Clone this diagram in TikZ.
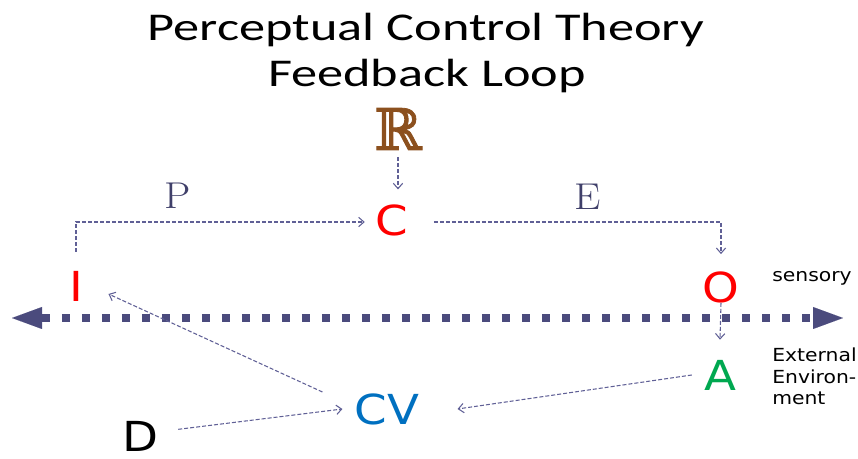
\documentclass[tikz,border=0pt]{standalone}
\usepackage{fontspec}
\usetikzlibrary{arrows.meta}
\newfontfamily\titlefont[FakeStretch=1.33]{Carlito}
\newfontfamily\letterfont[FakeStretch=1.13]{DejaVu Sans}
\newfontfamily\rfont[FakeBold=1.5]{DejaVu Serif}
\newfontfamily\pefont{Latin Modern Roman}
\definecolor{linec}{RGB}{96,96,150}
\definecolor{bigc}{RGB}{75,75,125}
\definecolor{agreen}{RGB}{0,168,80}
\definecolor{cvblue}{RGB}{0,112,192}
\definecolor{rbrown}{RGB}{140,80,30}
\definecolor{pec}{RGB}{64,64,106}
\begin{document}
\begin{tikzpicture}[x=0.75pt,y=-0.75pt,
  conn/.style={draw=linec, line width=0.8pt, dash pattern=on 3pt off 1.5pt,
    -{Straight Barb[length=4pt,width=7pt,line width=0.8pt]}},
  bigarrow/.style={draw=bigc, line width=6pt, dash pattern=on 6pt off 9pt,
    {Triangle[length=22.5pt,width=16.5pt,line width=0.01pt]}-{Triangle[length=22.5pt,width=16.5pt,line width=0.01pt]}},
  letter/.style={inner sep=0pt, font=\letterfont\fontsize{31}{31}\selectfont},
  titletext/.style={inner sep=0pt, anchor=base, font=\titlefont\fontsize{29.5}{30}\selectfont},
  petext/.style={inner sep=0pt, text=pec, font=\pefont\fontsize{28}{28}\selectfont},
  rnode/.style={inner sep=0pt, text=rbrown, font=\rfont\fontsize{43}{43}\selectfont},
  smalltext/.style={inner sep=0pt, anchor=base west, font=\letterfont\fontsize{13.5}{14}\selectfont}]
\useasboundingbox (0,0) rectangle (858,459);
% title
\node[titletext] (t1) at (426,41) {Perceptual Control Theory};
\node[titletext] (t2) at (427,87) {Feedback Loop};
% main letters
\node[letter, text=red] (I) at (76,286) {I};
\node[letter, text=red] (C) at (392,220) {C};
\node[letter, text=red] (O) at (721,287) {O};
\node[letter, text=agreen] (A) at (720,375) {A};
\node[letter, text=cvblue] (CV) at (387,409) {CV};
\node[letter, text=black] (D) at (140,436) {D};
\node[rnode] (R) at (398,129) {ℝ};
\node[petext] (P) at (178,196) {\scalebox{1.12}[1]{P}};
\node[petext] (E) at (588,197) {\scalebox{1.12}[1]{E}};
% side labels
\node[smalltext] (sens) at (772,282) {sensory};
\node[smalltext] (ext1) at (772,362) {External};
\node[smalltext] (ext2) at (772,383.5) {Environ-};
\node[smalltext] (ext3) at (772,405) {ment};
% big double arrow
\coordinate (bl) at (12,318);
\coordinate (br) at (843,318);
\draw[bigarrow] (bl) -- (br);
% connectors
\draw[conn] ([yshift=-5pt]R.south) -- ([yshift=11pt]R.south |- C.north);
\draw[conn] ([yshift=14pt]I.north) |- ([xshift=-8pt,yshift=-1.5pt]C.west);
\draw[conn] ([xshift=19pt,yshift=-1.5pt]C.east) -| ([yshift=12.75pt]O.north);
\draw[conn] (O.south) -- ([yshift=15pt]A.north);
\draw[conn] ([xshift=-9pt]A.west) -- ([xshift=28.5pt]CV.east);
\draw[conn] ([xshift=15pt,yshift=5pt]D.east) -- ([xshift=-9pt]CV.west);
\draw[conn] ([xshift=-24pt,yshift=12.75pt]CV.west) -- ([xshift=19pt,yshift=-6pt]I.east);
\end{tikzpicture}
\end{document}
